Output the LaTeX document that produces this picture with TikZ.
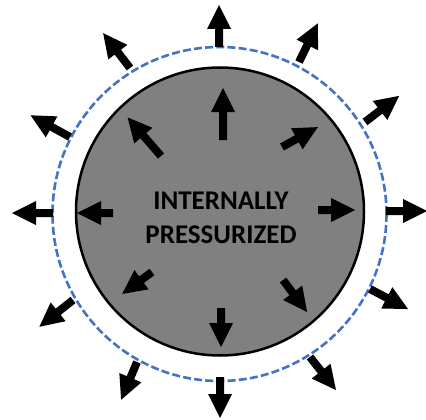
\documentclass[tikz,border=0pt]{standalone}
\usepackage{fontspec}
\setmainfont{Carlito}
\definecolor{dashblue}{HTML}{4472C4}
\definecolor{vesselgray}{HTML}{808080}
\begin{document}
\begin{tikzpicture}[x=1pt,y=-1pt,
  pics/barrow/.style={code={
    \fill[black] (0,-4) -- (#1-24,-4) -- (#1-24,-12) -- (#1,0) -- (#1-24,12) -- (#1-24,4) -- (0,4) -- cycle;}},
  vessel/.style={fill=vesselgray, draw=black, line width=2.5pt},
  boundary/.style={draw=dashblue, line width=2.6pt, dash pattern=on 8pt off 3.2pt},
  label/.style={font=\fontsize{27}{34}\selectfont\bfseries, text=black, inner sep=0pt, anchor=base}]
\useasboundingbox (0,0) rectangle (426,420);
% dashed boundary
\draw[boundary] (219.5,214) circle[radius=167pt];
% vessel
\draw[vessel] (220,211.5) circle[radius=144pt];
% outer arrows
\pic[rotate=90]     at (219,47)  {barrow=42};
\pic[rotate=64]     at (299,62)  {barrow=43};
\pic[rotate=37.4]   at (365,122) {barrow=43};
\pic[rotate=0]      at (386,211) {barrow=41};
\pic[rotate=-27.8]  at (370,289) {barrow=43};
\pic[rotate=-51.8]  at (310,357) {barrow=42};
\pic[rotate=-90]    at (220,377) {barrow=41};
\pic[rotate=-112.8] at (137,362) {barrow=41};
\pic[rotate=-141.5] at (73,300)  {barrow=43};
\pic[rotate=180]    at (53,213)  {barrow=41};
\pic[rotate=151.2]  at (70,137)  {barrow=45};
\pic[rotate=127.6]  at (130,68)  {barrow=44};
% inner arrows
\pic[rotate=90]     at (223,140) {barrow=52};
\pic[rotate=29]     at (282,147) {barrow=41};
\pic[rotate=0]      at (318,210) {barrow=37};
\pic[rotate=-53]    at (283,280) {barrow=40};
\pic[rotate=-90]    at (221,308) {barrow=39};
\pic[rotate=-143.7] at (152,272) {barrow=37};
\pic[rotate=180]    at (113,213) {barrow=36};
\pic[rotate=130.9]  at (161,156) {barrow=51};
% text
\node[label] (l1) at (221,209) {INTERNALLY};
\node[label] (l2) at (221,243) {PRESSURIZED};
\end{tikzpicture}
\end{document}
